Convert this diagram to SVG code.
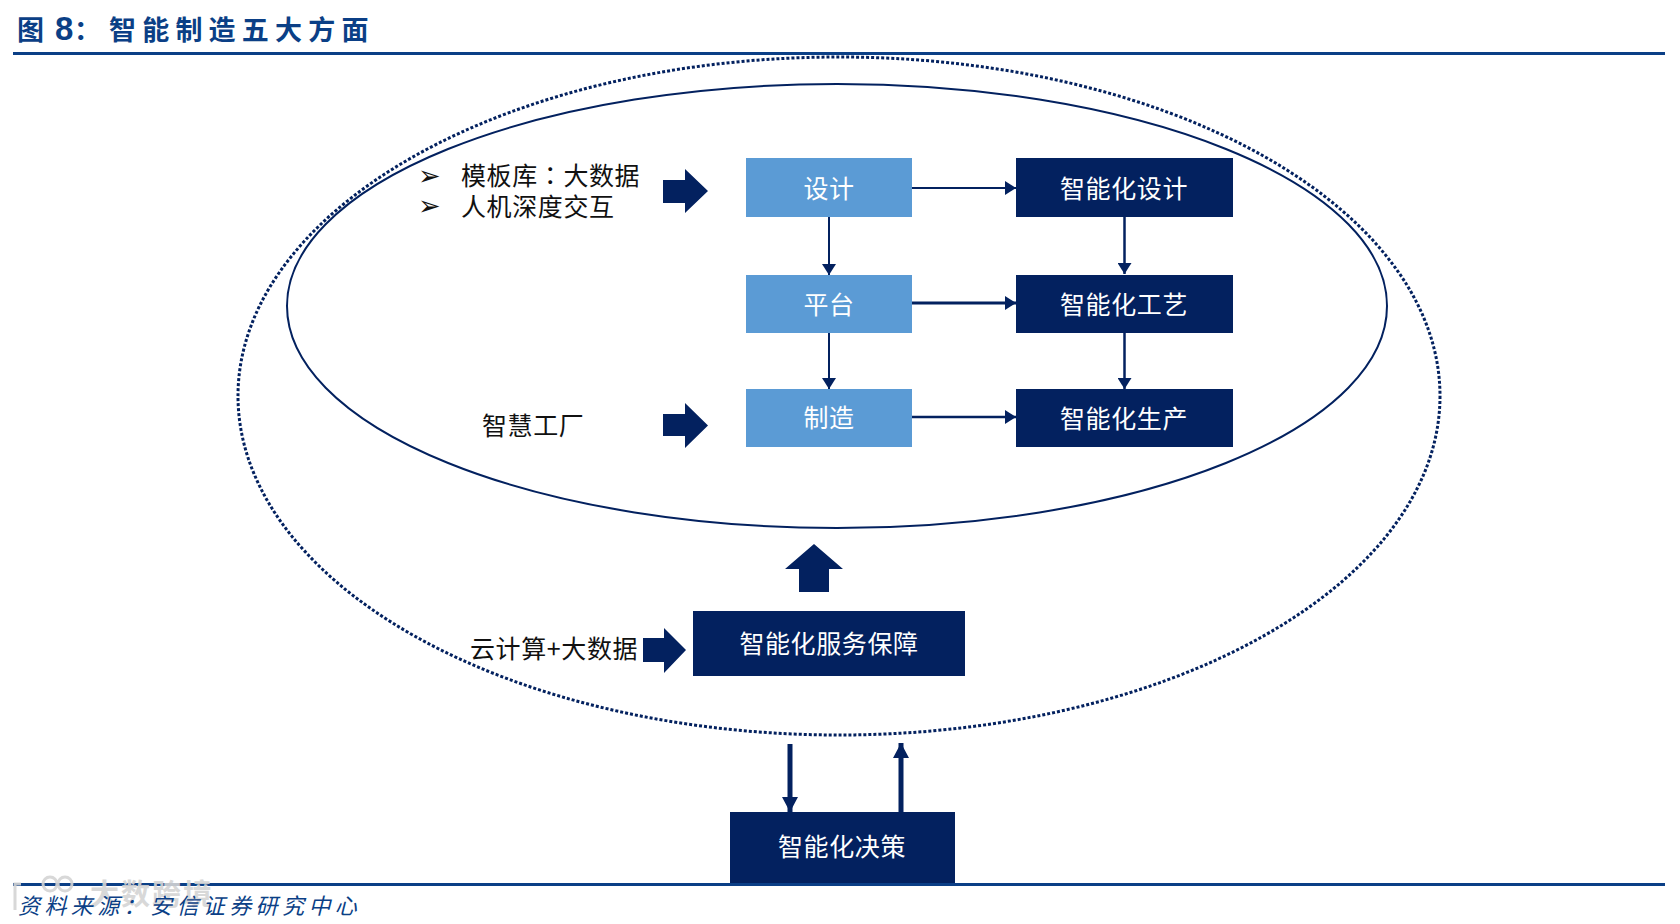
<svg xmlns="http://www.w3.org/2000/svg" width="1680" height="924" viewBox="0 0 1680 924">
<style>
text{font-family:"Noto Sans CJK SC","Liberation Sans",sans-serif}
.t{font-size:25px;fill:#111;letter-spacing:.6px}
.w{font-size:25px;fill:#fff;text-anchor:middle;letter-spacing:.6px}
.lb{fill:#5b9bd5}.db{fill:#03215f}
.c{stroke:#03215f;stroke-width:2;fill:none;marker-end:url(#h)}
.bar{fill:#0b3f86}
.ttl{font-size:27px;font-weight:700;fill:#0b3f86}
.bul{font-size:27px;fill:#111;font-family:"DejaVu Sans",sans-serif}
</style>
<defs>
<marker id="h" markerUnits="userSpaceOnUse" markerWidth="12" markerHeight="14" refX="11" refY="7" orient="auto"><path d="M0,0L11,7L0,14Z" fill="#03215f"/></marker>
<marker id="H" markerUnits="userSpaceOnUse" markerWidth="16" markerHeight="17" refX="15" refY="8" orient="auto"><path d="M0,0L15,8L0,16Z" fill="#03215f"/></marker>
</defs>
<rect width="1680" height="924" fill="#fff"/>
<g id="header">
<rect class="bar" x="13" y="52" width="1652" height="3"/>
<text class="ttl" x="17" y="40">图</text>
<text class="ttl" x="55" y="40" style="font-family:'Liberation Sans',sans-serif;font-size:33px">8</text>
<text class="ttl" x="74" y="40">：</text>
<text class="ttl" x="109" y="40" letter-spacing="6.200">智能制造五大方面</text>
</g>
<g id="ellipses" fill="none" stroke="#03215f">
<ellipse id="outer" cx="839" cy="396" rx="601" ry="339" stroke-width="3" stroke-dasharray="3 2"/>
<ellipse id="inner" cx="837" cy="306" rx="550" ry="222" stroke-width="2"/>
</g>
<g id="connectors">
<path class="c" d="M912 188H1016"/>
<path class="c" d="M912 303H1016" style="stroke-width:3"/>
<path class="c" d="M912 417H1016" style="stroke-width:2.500"/>
<path class="c" d="M829 217V275"/>
<path class="c" d="M829 333V389"/>
<path class="c" d="M1124.500 217V274" style="stroke-width:2.500"/>
<path class="c" d="M1124.500 333V389" style="stroke-width:2.500"/>
<path d="M790 744V812" stroke="#03215f" stroke-width="5" fill="none" marker-end="url(#H)"/>
<path d="M901 812V743" stroke="#03215f" stroke-width="5" fill="none" marker-end="url(#H)"/>
</g>
<g id="n-sheji"><rect class="lb" x="746" y="158" width="166" height="59"/><text class="w" x="829" y="198">设计</text></g>
<g id="n-pingtai"><rect class="lb" x="746" y="275" width="166" height="58"/><text class="w" x="829" y="314">平台</text></g>
<g id="n-zhizao"><rect class="lb" x="746" y="389" width="166" height="58"/><text class="w" x="829" y="427">制造</text></g>
<g id="n-zsj"><rect class="db" x="1016" y="158" width="217" height="59"/><text class="w" x="1124" y="198">智能化设计</text></g>
<g id="n-zgy"><rect class="db" x="1016" y="275" width="217" height="58"/><text class="w" x="1124" y="314">智能化工艺</text></g>
<g id="n-zsc"><rect class="db" x="1016" y="389" width="217" height="58"/><text class="w" x="1124" y="428">智能化生产</text></g>
<g id="n-fw"><rect class="db" x="693" y="611" width="272" height="65"/><text class="w" x="829" y="653">智能化服务保障</text></g>
<g id="n-jc"><rect class="db" x="730" y="812" width="225" height="72"/><text class="w" x="842" y="856">智能化决策</text></g>
<g id="block-arrows" class="db">
<path d="M663 180H685V169L708 191L685 213V203H663Z"/>
<path d="M663 414H685V403L708 425.500L685 448V436H663Z"/>
<path d="M643 638H664V628L686 650L664 673V662H643Z"/>
<path d="M799 592V569H785L814 544L843 569H829V592Z"/>
</g>
<g id="labels">
<text class="bul" x="418" y="185">➢</text>
<text class="bul" x="418" y="215">➢</text>
<text class="t"><tspan x="461" y="185">模板库<tspan style="font-family:'Noto Sans CJK TC',sans-serif">：</tspan>大数据</tspan><tspan x="461" y="216">人机深度交互</tspan></text>
<text class="t" x="482" y="435">智慧工厂</text>
<text class="t" x="470" y="658">云计算+大数据</text>
</g>
<g id="footer">
<rect class="bar" x="13" y="883" width="1652" height="3"/>
<g id="watermark" fill="none" stroke="#d4d4d4" stroke-width="3" opacity=".9">
<path d="M15 910V884H21"/>
<circle cx="50" cy="884" r="7"/>
<circle cx="65" cy="884" r="7"/>
<text x="90" y="905" font-size="29" fill="#d4d4d4" stroke="none" font-weight="700" letter-spacing="2">大数跨境</text>
</g>
<text x="18" y="914" font-size="22" font-style="italic" fill="#0b3f86" letter-spacing="4.400">资料来源：安信证券研究中心</text>
</g>
</svg>
